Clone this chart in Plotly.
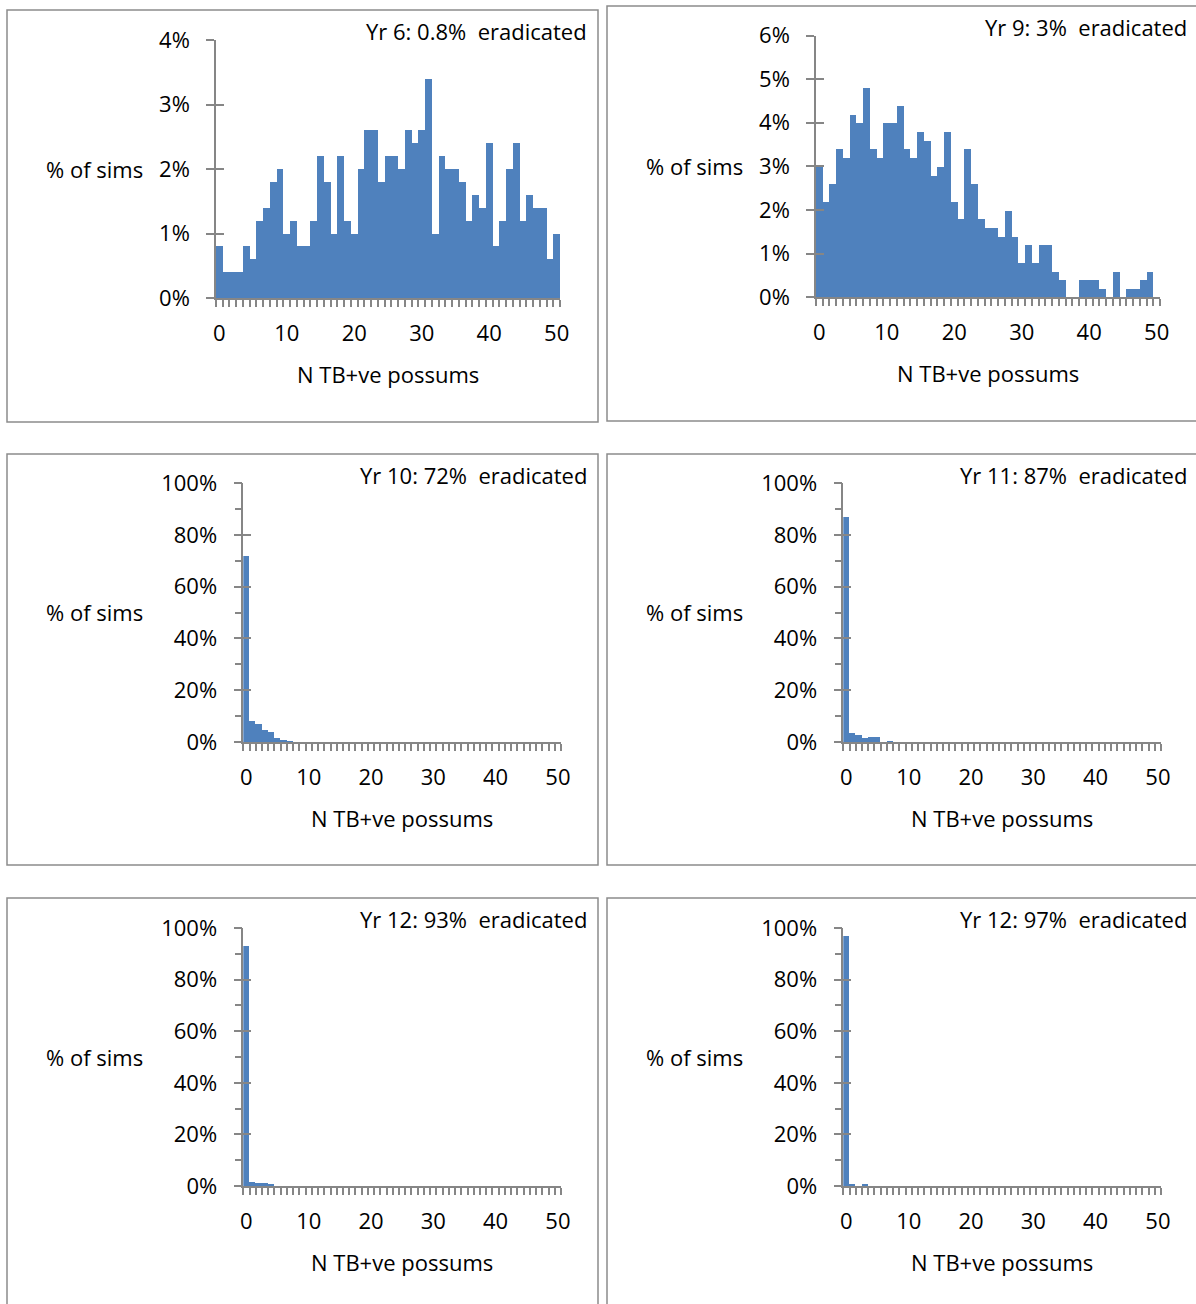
import plotly.graph_objects as go

# ---------------- data (percent of simulations per N TB+ve possums) ----------------
n_possums = list(range(51))

yr6_vals = [0.8, 0.4, 0.4, 0.4, 0.8, 0.6, 1.2, 1.4, 1.8, 2.0,
            1.0, 1.2, 0.8, 0.8, 1.2, 2.2, 1.8, 1.0, 2.2, 1.2,
            1.0, 2.0, 2.6, 2.6, 1.8, 2.2, 2.2, 2.0, 2.6, 2.4,
            2.6, 3.4, 1.0, 2.2, 2.0, 2.0, 1.8, 1.2, 1.6, 1.4,
            2.4, 0.8, 1.2, 2.0, 2.4, 1.2, 1.6, 1.4, 1.4, 0.6,
            1.0]
yr9_vals = [3.0, 2.2, 2.6, 3.4, 3.2, 4.2, 4.0, 4.8, 3.4, 3.2,
            4.0, 4.0, 4.4, 3.4, 3.2, 3.8, 3.6, 2.8, 3.0, 3.8,
            2.2, 1.8, 3.4, 2.6, 1.8, 1.6, 1.6, 1.4, 2.0, 1.4,
            0.8, 1.2, 0.8, 1.2, 1.2, 0.6, 0.4, 0.0, 0.0, 0.4,
            0.4, 0.4, 0.2, 0.0, 0.6, 0.0, 0.2, 0.2, 0.4, 0.6,
            0.0]
yr10_vals = [72, 8.0, 7.0, 4.5, 4.0, 1.4, 0.6, 0.3]
yr11_vals = [87, 3.3, 2.7, 1.4, 1.8, 1.8, 0.0, 0.3]
yr12a_vals = [93, 1.4, 1.3, 1.0, 0.8]
yr12b_vals = [97, 0.4, 0.0, 0.7]

titles = ["Yr 6: 0.8%\u00a0 eradicated", "Yr 9: 3%\u00a0 eradicated",
          "Yr 10: 72%\u00a0 eradicated", "Yr 11: 87%\u00a0 eradicated",
          "Yr 12: 93%\u00a0 eradicated", "Yr 12: 97%\u00a0 eradicated"]
series = [yr6_vals, yr9_vals, yr10_vals, yr11_vals, yr12a_vals, yr12b_vals]
y_max = [4, 6, 100, 100, 100, 100]
y_major = [1, 1, 20, 20, 20, 20]
y_minor = [None, None, 10, 10, 10, 10]
x_label_vals = [0, 10, 20, 30, 40, 50]
y_title = "% of sims"
x_title = "N TB+ve possums"

# ---------------- layout geometry (pixels) ----------------
W, H = 1196, 1304
FONT = "Open Sans"
FS = 22
AX = "#868686"
BAR = "#4F81BD"

# plot area: (left, right, bottom(0%), top(max))
areas = [(216, 560, 298, 40), (816, 1160, 297.3, 35.5),
         (243.3, 561, 742, 483), (843.3, 1161, 742, 483),
         (243.3, 561, 1186, 928), (843.3, 1161, 1186, 928)]
boxes = [(7, 10, 598, 422), (607, 6, 1210, 421),
         (7, 454, 598, 865), (607, 454, 1210, 865),
         (7, 898, 598, 1320), (607, 898, 1210, 1320)]
title_right = [589, 1189, 589, 1189, 589, 1189]


def fx(px):
    return px / W


def fy(py):
    return 1 - py / H


fig = go.Figure()
layout = dict(width=W, height=H, autosize=False,
              margin=dict(l=0, r=0, t=0, b=0, pad=0, autoexpand=False),
              paper_bgcolor="white", plot_bgcolor="rgba(0,0,0,0)",
              showlegend=False, bargap=0,
              font=dict(family=FONT, size=FS, color="black"))
shapes, annotations = [], []

for i in range(6):
    k = i + 1
    vals = series[i]
    l, r, b, t = areas[i]
    xa = f"xaxis{k}"
    ya = f"yaxis{k}"
    yo = f"yaxis{k + 6}"
    fig.add_trace(go.Bar(x=n_possums[:len(vals)], y=vals, marker=dict(color=BAR, line=dict(width=0)),
                         xaxis=f"x{k}", yaxis=f"y{k}", hoverinfo="skip"))
    fig.add_trace(go.Scatter(x=[], y=[], xaxis=f"x{k}", yaxis=f"y{k + 6}", hoverinfo="skip"))

    yticks = list(range(0, y_max[i] + 1, y_major[i]))
    ytext = [f"{v}%" for v in yticks]
    layout[xa] = dict(domain=[fx(l), fx(r)], anchor=f"y{k}", range=[-0.5, 50.5], automargin=False,
                      showline=True, linecolor=AX, linewidth=1.5, showgrid=False, zeroline=False,
                      tickmode="array", tickvals=x_label_vals,
                      ticktext=[str(v) for v in x_label_vals], ticks="outside", ticklen=15,
                      tickcolor="rgba(0,0,0,0)", tickfont=dict(family=FONT, size=FS, color="black"),
                      minor=dict(tickmode="array", tickvals=[v - 0.5 for v in range(52)],
                                 ticks="outside", ticklen=7, tickwidth=1.5, tickcolor=AX),
                      fixedrange=True)
    ydict = dict(domain=[fy(b), fy(t)], anchor=f"x{k}", range=[0, y_max[i]], automargin=False,
                 showline=True, linecolor=AX, linewidth=1.5, showgrid=False, zeroline=False,
                 tickmode="array", tickvals=yticks, ticktext=ytext, ticks="outside", ticklen=8,
                 tickwidth=1.5, tickcolor=AX, ticklabelstandoff=12,
                 tickfont=dict(family=FONT, size=FS, color="black"), fixedrange=True)
    if y_minor[i]:
        ydict["minor"] = dict(tickmode="array",
                              tickvals=list(range(0, y_max[i] + 1, y_minor[i])),
                              ticks="outside", ticklen=7, tickwidth=1.5, tickcolor=AX)
    layout[ya] = ydict
    layout[yo] = dict(overlaying=f"y{k}", anchor=f"x{k}", side="left", range=[0, y_max[i]],
                      automargin=False, showline=False, showgrid=False, zeroline=False,
                      showticklabels=False, tickmode="array", tickvals=yticks, ticks="inside",
                      ticklen=8, tickwidth=1.5, tickcolor=AX, fixedrange=True)

    bx0, by0, bx1, by1 = boxes[i]
    shapes.append(dict(type="rect", xref="paper", yref="paper", x0=fx(bx0), x1=fx(bx1),
                       y0=fy(by1), y1=fy(by0), line=dict(color="#8C8C8C", width=1.5),
                       fillcolor="rgba(0,0,0,0)", layer="below"))
    annotations.append(dict(text=titles[i], xref="paper", yref="paper", x=fx(title_right[i]),
                            y=fy(by0 + 21), xanchor="right", yanchor="middle", showarrow=False,
                            font=dict(family=FONT, size=FS, color="black")))
    annotations.append(dict(text=y_title, xref="paper", yref="paper", x=fx(bx0 + 37),
                            y=fy((b + t) / 2), xanchor="left", yanchor="middle", showarrow=False,
                            font=dict(family=FONT, size=FS, color="black")))
    annotations.append(dict(text=x_title, xref="paper", yref="paper", x=fx((l + r) / 2),
                            y=fy(b + 76), xanchor="center", yanchor="middle", showarrow=False,
                            font=dict(family=FONT, size=FS, color="black")))

layout["shapes"] = shapes
layout["annotations"] = annotations
fig.update_layout(**layout)
fig.write_html("out.html", config={"displayModeBar": False},
               post_script="document.body.style.margin='0';document.body.style.overflow='hidden';")
